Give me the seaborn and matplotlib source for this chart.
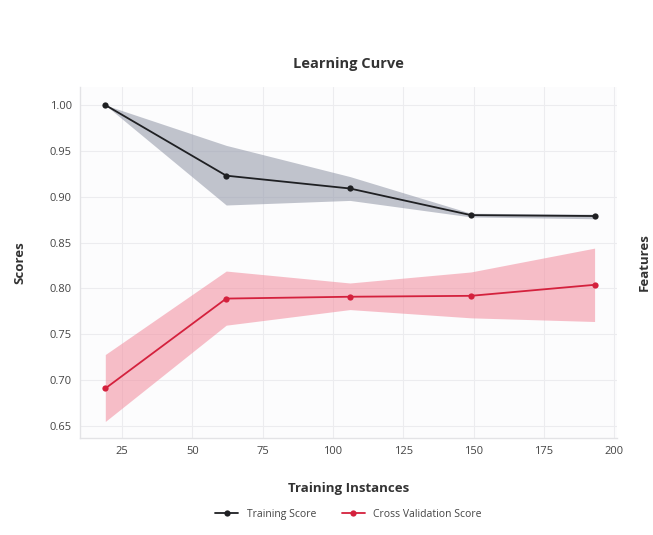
import numpy as np
import pandas as pd
import seaborn as sns
import matplotlib
matplotlib.use("Agg")
import matplotlib.pyplot as plt

train_sizes = [19, 62, 106, 149, 193]
train_mean = [1.000, 0.923, 0.909, 0.880, 0.879]
train_upper = [1.000, 0.956, 0.922, 0.882, 0.881]
train_lower = [1.000, 0.891, 0.896, 0.878, 0.876]
cv_mean = [0.691, 0.789, 0.791, 0.792, 0.804]
cv_upper = [0.728, 0.819, 0.806, 0.818, 0.844]
cv_lower = [0.655, 0.760, 0.777, 0.768, 0.764]

sns.set_theme(style="whitegrid")
plt.rcParams['font.family'] = ['Open Sans', 'DejaVu Sans']

fig = plt.figure(figsize=(6.53, 5.35), dpi=100)
ax = fig.add_axes([0.1225, 0.1813, 0.8225, 0.656])
ax.set_facecolor('#fcfcfd')

train_col = '#1f2023'
cv_col = '#d4213d'

ax.fill_between(train_sizes, train_lower, train_upper, color='#959aaa', alpha=0.58, linewidth=0, zorder=1)
ax.fill_between(train_sizes, cv_lower, cv_upper, color='#f28a9c', alpha=0.55, linewidth=0, zorder=1)

df = pd.DataFrame({
    'x': train_sizes * 2,
    'y': train_mean + cv_mean,
    'series': ['Training Score'] * 5 + ['Cross Validation Score'] * 5,
})
sns.lineplot(data=df, x='x', y='y', hue='series', palette={'Training Score': train_col, 'Cross Validation Score': cv_col},
             marker='o', markersize=4.5, markeredgewidth=0, linewidth=1.3, ax=ax, zorder=3)

ax.set_xlim(10, 201)
ax.set_ylim(0.637, 1.0196)
ax.set_xticks([25, 50, 75, 100, 125, 150, 175, 200])
ax.set_yticks([0.65, 0.70, 0.75, 0.80, 0.85, 0.90, 0.95, 1.00])
ax.set_yticklabels([f"{v:.2f}" for v in [0.65, 0.70, 0.75, 0.80, 0.85, 0.90, 0.95, 1.00]])
ax.tick_params(axis='both', labelsize=8, colors='#444444', length=0, pad=6)
ax.grid(True, color='#ececef', linewidth=0.8)
for s in ['top', 'right']:
    ax.spines[s].set_visible(False)
for s in ['left', 'bottom']:
    ax.spines[s].set_color('#e3e3e6')
    ax.spines[s].set_linewidth(1.0)

ax.set_xlabel('Training Instances', fontsize=9.5, fontweight='bold', color='#333333', labelpad=18)
ax.set_ylabel('Scores', fontsize=9.5, fontweight='bold', color='#333333', labelpad=17)
ax.set_title('Learning Curve', fontsize=10.5, fontweight='bold', color='#333333', pad=14)
fig.text(0.987, 0.51, 'Features', rotation=90, ha='center', va='center', fontsize=9.5, fontweight='bold', color='#333333')

handles, labels = ax.get_legend_handles_labels()
ax.legend(handles, labels, loc='upper center', bbox_to_anchor=(0.5, -0.175), ncol=2, frameon=False,
          fontsize=7.5, labelcolor='#444444', handlelength=2.2, columnspacing=2.5)

fig.savefig('out.png', dpi=100, facecolor='white')
